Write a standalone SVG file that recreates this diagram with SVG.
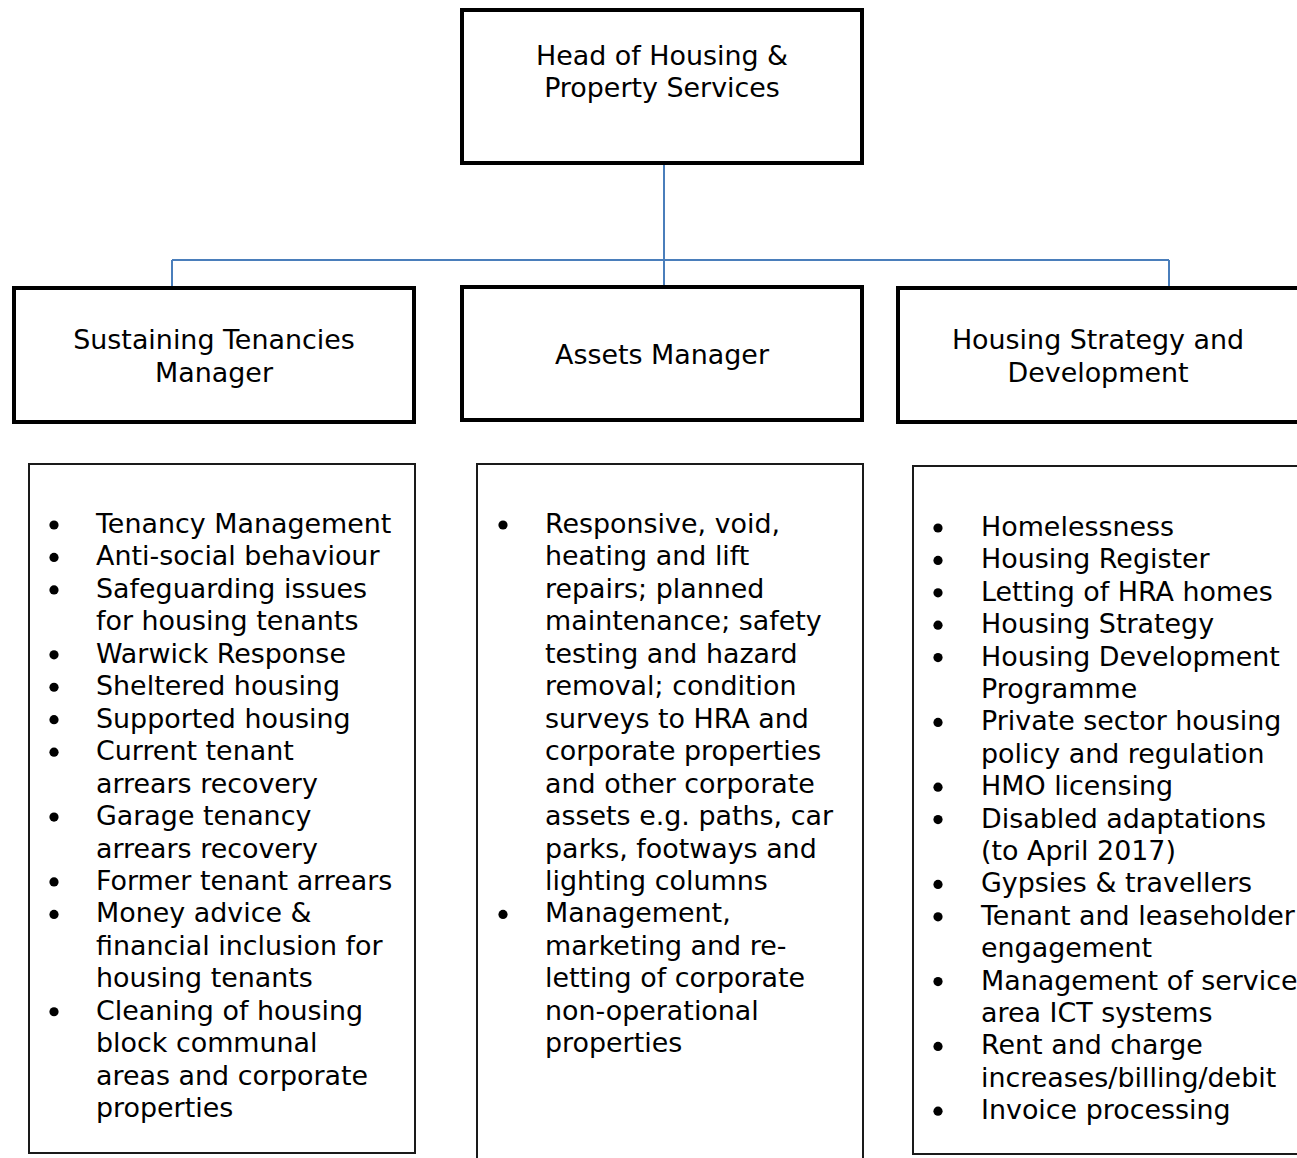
<svg xmlns="http://www.w3.org/2000/svg" width="1297" height="1158" viewBox="0 0 1297 1158">
<style>
text{font-family:"DejaVu Sans","Verdana",sans-serif;font-size:26.9px;fill:#000}
.c{text-anchor:middle}
.hbox{fill:#fff;stroke:#000;stroke-width:4}
.lbox{fill:#fff;stroke:#1a1a1a;stroke-width:2}
.conn{fill:none;stroke:#4a7ebb;stroke-width:2}
.b{fill:#000}
</style>
<rect width="1297" height="1158" fill="#fff"/>
<g id="connectors">
<path class="conn" d="M664 164V287M172 260H1169M172 260V288M1169 260V288"/>
</g>
<g id="head">
<rect class="hbox" x="462" y="10" width="400" height="153"/>
<text class="c" x="662" y="65">Head of Housing &amp;</text>
<text class="c" x="662" y="97">Property Services</text>
</g>
<g id="sustaining">
<rect class="hbox" x="14" y="288" width="400" height="134"/>
<text class="c" x="214" y="349">Sustaining Tenancies</text>
<text class="c" x="214" y="382">Manager</text>
</g>
<g id="assets">
<rect class="hbox" x="462" y="287" width="400" height="133"/>
<text class="c" x="662" y="364">Assets Manager</text>
</g>
<g id="strategy">
<rect class="hbox" x="898" y="288" width="402" height="134"/>
<text class="c" x="1098" y="349">Housing Strategy and</text>
<text class="c" x="1098" y="382">Development</text>
</g>
<g id="sustaining-list">
<rect class="lbox" x="29" y="464" width="386" height="689"/>
<g class="b">
<circle cx="54" cy="525" r="4.6"/>
<circle cx="54" cy="557.45" r="4.6"/>
<circle cx="54" cy="589.9" r="4.6"/>
<circle cx="54" cy="654.8" r="4.6"/>
<circle cx="54" cy="687.25" r="4.6"/>
<circle cx="54" cy="719.7" r="4.6"/>
<circle cx="54" cy="752.15" r="4.6"/>
<circle cx="54" cy="817.05" r="4.6"/>
<circle cx="54" cy="881.95" r="4.6"/>
<circle cx="54" cy="914.4" r="4.6"/>
<circle cx="54" cy="1011.75" r="4.6"/>
</g>
<text x="96" y="533"><tspan x="96">Tenancy Management</tspan><tspan x="96" dy="32.45">Anti-social behaviour</tspan><tspan x="96" dy="32.45">Safeguarding issues</tspan><tspan x="96" dy="32.45">for housing tenants</tspan><tspan x="96" dy="32.45">Warwick Response</tspan><tspan x="96" dy="32.45">Sheltered housing</tspan><tspan x="96" dy="32.45">Supported housing</tspan><tspan x="96" dy="32.45">Current tenant</tspan><tspan x="96" dy="32.45">arrears recovery</tspan><tspan x="96" dy="32.45">Garage tenancy</tspan><tspan x="96" dy="32.45">arrears recovery</tspan><tspan x="96" dy="32.45">Former tenant arrears</tspan><tspan x="96" dy="32.45">Money advice &amp;</tspan><tspan x="96" dy="32.45">financial inclusion for</tspan><tspan x="96" dy="32.45">housing tenants</tspan><tspan x="96" dy="32.45">Cleaning of housing</tspan><tspan x="96" dy="32.45">block communal</tspan><tspan x="96" dy="32.45">areas and corporate</tspan><tspan x="96" dy="32.45">properties</tspan></text>
</g>
<g id="assets-list">
<rect class="lbox" x="477" y="464" width="386" height="710"/>
<g class="b">
<circle cx="503" cy="525" r="4.6"/>
<circle cx="503" cy="914.4" r="4.6"/>
</g>
<text x="545" y="533"><tspan x="545">Responsive, void,</tspan><tspan x="545" dy="32.45">heating and lift</tspan><tspan x="545" dy="32.45">repairs; planned</tspan><tspan x="545" dy="32.45">maintenance; safety</tspan><tspan x="545" dy="32.45">testing and hazard</tspan><tspan x="545" dy="32.45">removal; condition</tspan><tspan x="545" dy="32.45">surveys to HRA and</tspan><tspan x="545" dy="32.45">corporate properties</tspan><tspan x="545" dy="32.45">and other corporate</tspan><tspan x="545" dy="32.45">assets e.g. paths, car</tspan><tspan x="545" dy="32.45">parks, footways and</tspan><tspan x="545" dy="32.45">lighting columns</tspan><tspan x="545" dy="32.45">Management,</tspan><tspan x="545" dy="32.45">marketing and re-</tspan><tspan x="545" dy="32.45">letting of corporate</tspan><tspan x="545" dy="32.45">non-operational</tspan><tspan x="545" dy="32.45">properties</tspan></text>
</g>
<g id="strategy-list">
<rect class="lbox" x="913" y="466" width="400" height="688"/>
<g class="b">
<circle cx="938" cy="528" r="4.6"/>
<circle cx="938" cy="560.4" r="4.6"/>
<circle cx="938" cy="592.8" r="4.6"/>
<circle cx="938" cy="625.2" r="4.6"/>
<circle cx="938" cy="657.6" r="4.6"/>
<circle cx="938" cy="722.4" r="4.6"/>
<circle cx="938" cy="787.2" r="4.6"/>
<circle cx="938" cy="819.6" r="4.6"/>
<circle cx="938" cy="884.4" r="4.6"/>
<circle cx="938" cy="916.8" r="4.6"/>
<circle cx="938" cy="981.6" r="4.6"/>
<circle cx="938" cy="1046.4" r="4.6"/>
<circle cx="938" cy="1111.2" r="4.6"/>
</g>
<text x="981" y="536"><tspan x="981">Homelessness</tspan><tspan x="981" dy="32.4">Housing Register</tspan><tspan x="981" dy="32.4">Letting of HRA homes</tspan><tspan x="981" dy="32.4">Housing Strategy</tspan><tspan x="981" dy="32.4">Housing Development</tspan><tspan x="981" dy="32.4">Programme</tspan><tspan x="981" dy="32.4">Private sector housing</tspan><tspan x="981" dy="32.4">policy and regulation</tspan><tspan x="981" dy="32.4">HMO licensing</tspan><tspan x="981" dy="32.4">Disabled adaptations</tspan><tspan x="981" dy="32.4">(to April 2017)</tspan><tspan x="981" dy="32.4">Gypsies &amp; travellers</tspan><tspan x="981" dy="32.4">Tenant and leaseholder</tspan><tspan x="981" dy="32.4">engagement</tspan><tspan x="981" dy="32.4">Management of service</tspan><tspan x="981" dy="32.4">area ICT systems</tspan><tspan x="981" dy="32.4">Rent and charge</tspan><tspan x="981" dy="32.4">increases/billing/debit</tspan><tspan x="981" dy="32.4">Invoice processing</tspan></text>
</g>
</svg>
